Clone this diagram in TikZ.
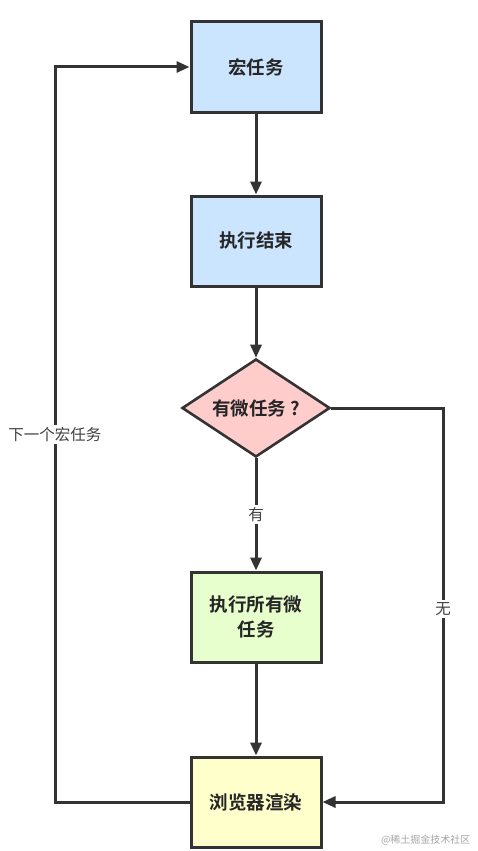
\documentclass[tikz,border=0pt]{standalone}
\usepackage{fontspec}
\newfontfamily\cjk{Noto Sans CJK SC}
\newfontfamily\cjkb{Noto Sans CJK SC Bold}
\usetikzlibrary{shapes.geometric,arrows.meta}
\definecolor{lineC}{HTML}{333333}
\definecolor{blueF}{HTML}{CCE5FF}
\definecolor{pinkF}{HTML}{FFCCCC}
\definecolor{greenF}{HTML}{E6FFCC}
\definecolor{yellowF}{HTML}{FFFFCC}
\tikzset{
  box/.style={draw=lineC,line width=3pt,minimum width=130pt,minimum height=90pt,inner sep=0pt,align=center,font=\cjkb\fontsize{18.5}{25}\selectfont,text=black!85},
  dia/.style={draw=lineC,line width=2.6pt,diamond,aspect=1.5,minimum width=148pt,minimum height=98pt,inner sep=0pt,font=\cjkb\fontsize{18.5}{22}\selectfont,text=black!85,fill=pinkF},
  conn/.style={draw=lineC,line width=3pt,-{Triangle[length=13pt,width=11pt]}},
  lbl/.style={fill=white,inner sep=2pt,font=\cjk\fontsize{15.5}{17}\selectfont,text=black!75}
}
\begin{document}
\begin{tikzpicture}[x=1pt,y=-1pt]
\useasboundingbox (0,0) rectangle (477,851);
\fill[white] (0,0) rectangle (477,851);
\node[box,fill=blueF] (b1) at (256,67) {宏任务};
\node[box,fill=blueF] (b2) at (256,241) {执行结束};
\node[dia] (d) at (256,408) {有微任务 ?};
\node[box,fill=greenF] (b3) at (256,617) {执行所有微\\任务};
\node[box,fill=yellowF] (b4) at (256,802) {浏览器渲染};
\coordinate (l1) at (55,802);
\coordinate (l2) at (55,67);
\coordinate (r1) at (443,408);
\coordinate (r2) at (443,802);
\draw[conn] (b1) -- (b2);
\draw[conn] (b2) -- (d);
\draw[conn] (d) -- node[lbl,pos=0.5] {有} (b3);
\draw[conn] (b3) -- (b4);
\draw[conn] (b4.west) -- (l1) -- node[lbl,pos=0.5] {下一个宏任务} (l2) -- (b1.west);
\draw[conn] (d.east) -- (r1) -- node[lbl,pos=0.51] {无} (r2) -- (b4.east);
\node[font=\cjk\fontsize{10}{11}\selectfont,text=black!35,anchor=east] (wm) at (474,840) {@稀土掘金技术社区};
\end{tikzpicture}
\end{document}
